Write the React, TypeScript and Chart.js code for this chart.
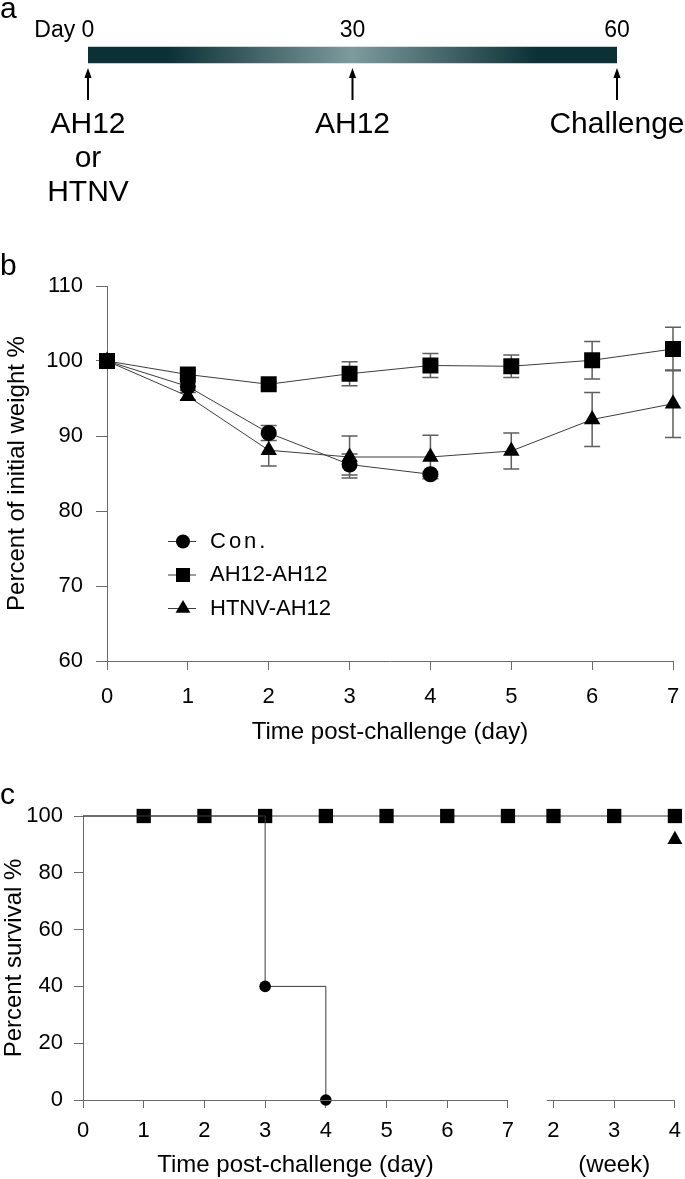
import React, { useEffect, useRef } from 'react';
import { Chart, registerables } from 'chart.js';

Chart.register(...registerables);

const FONT = '"Liberation Sans", Arimo, Arial, sans-serif';
const AXIS = '#6a6a6a';
const LINE = '#3c3c3c';
const ERR = '#5e5e5e';

Chart.defaults.font.family = FONT;
Chart.defaults.color = '#000';

// ---------- panel a : immunisation timeline ----------
const timelineDays = [0, 30, 60];
const timelineTickLabels = ['Day 0', '30', '60'];
const timelineEvents = [['AH12', 'or', 'HTNV'], ['AH12'], ['Challenge']];

// ---------- panel b : body weight ----------
const seriesNames = ['Con.', 'AH12-AH12', 'HTNV-AH12'];
const weightDays = [0, 1, 2, 3, 4, 5, 6, 7];
const conWeight = [100, 96.6, 90.4, 86.2, 84.9];
const conWeightErr = [0, 0.5, 1.0, 1.4, 0.3];
const ah12Weight = [100, 98.2, 96.9, 98.3, 99.4, 99.3, 100.1, 101.6];
const ah12WeightErr = [0, 0.5, 0.4, 1.6, 1.6, 1.5, 2.5, 2.9];
const htnvWeight = [100, 95.3, 88.1, 87.2, 87.2, 88.0, 92.2, 94.3];
const htnvWeightErr = [0, 0.5, 2.1, 2.8, 2.9, 2.4, 3.6, 4.5];

// ---------- panel c : survival ----------
const survivalTickPos = [0, 1, 2, 3, 4, 5, 6, 7, 7.75, 8.75, 9.75];
const survivalTickLabels = ['0', '1', '2', '3', '4', '5', '6', '7', '2', '3', '4'];
const conSurvivalX = [0, 3, 4];
const conSurvival = [100, 40, 0];
const ah12Survival = [100, 100, 100, 100, 100, 100, 100, 100, 100, 100, 100];
const htnvSurvival = [100, 100, 100, 100, 100, 100, 100, 100, 100, 100, 91.7];

document.body.style.margin = '0';

const pts = (xs: number[], ys: number[]) => ys.map((y, i) => ({ x: xs[i], y }));

function drawMarker(ctx: CanvasRenderingContext2D, style: string, x: number, y: number, r: number) {
  ctx.beginPath();
  if (style === 'circle') {
    ctx.arc(x, y, r, 0, Math.PI * 2);
  } else if (style === 'rect') {
    const s = r * Math.SQRT1_2;
    ctx.rect(x - s, y - s, 2 * s, 2 * s);
  } else {
    ctx.moveTo(x, y - r);
    ctx.lineTo(x + r * Math.sin((2 * Math.PI) / 3), y - r * Math.cos((2 * Math.PI) / 3));
    ctx.lineTo(x + r * Math.sin((4 * Math.PI) / 3), y - r * Math.cos((4 * Math.PI) / 3));
    ctx.closePath();
  }
  ctx.fill();
}

const panelLetter = (letter: string, baseline: number) => ({
  id: 'letter' + letter,
  afterDraw(chart: any) {
    const ctx = chart.ctx;
    ctx.save();
    ctx.fillStyle = '#000';
    ctx.font = `30px ${FONT}`;
    ctx.textAlign = 'left';
    ctx.textBaseline = 'alphabetic';
    ctx.fillText(letter, 0, baseline);
    ctx.restore();
  },
});

// ---------- configs ----------
const timelinePlugin = {
  id: 'timeline',
  afterDraw(chart: any) {
    const ctx = chart.ctx as CanvasRenderingContext2D;
    const xs = chart.scales.x;
    ctx.save();
    ctx.fillStyle = '#000';
    ctx.strokeStyle = '#000';
    timelineDays.forEach((d, i) => {
      const px = xs.getPixelForValue(d);
      ctx.font = `23px ${FONT}`;
      ctx.textBaseline = 'alphabetic';
      const label = timelineTickLabels[i];
      if (i === 0) {
        const w0 = ctx.measureText(String(d)).width;
        ctx.textAlign = 'right';
        ctx.fillText(label, px + w0 / 2, 37);
      } else {
        ctx.textAlign = 'center';
        ctx.fillText(label, px, 37);
      }
      ctx.lineWidth = 2;
      ctx.beginPath();
      ctx.moveTo(px, 100);
      ctx.lineTo(px, 76);
      ctx.stroke();
      ctx.beginPath();
      ctx.moveTo(px, 68);
      ctx.lineTo(px - 3.6, 78);
      ctx.lineTo(px + 3.6, 78);
      ctx.closePath();
      ctx.fill();
      ctx.font = `30px ${FONT}`;
      ctx.textAlign = 'center';
      timelineEvents[i].forEach((t, j) => ctx.fillText(t, px, 133 + j * 34));
    });
    ctx.restore();
  },
};

function timelineConfig(): any {
  return {
    type: 'bar',
    data: {
      labels: ['schedule'],
      datasets: [
        {
          data: [[timelineDays[0], timelineDays[timelineDays.length - 1]]],
          barThickness: 16,
          borderWidth: 0,
          backgroundColor: (c: any) => {
            const { ctx, chartArea } = c.chart;
            if (!chartArea) return '#0b3036';
            const g = ctx.createLinearGradient(chartArea.left, 0, chartArea.right, 0);
            g.addColorStop(0, '#0b3036');
            g.addColorStop(0.15, '#0b3036');
            g.addColorStop(0.5, '#7e9b9d');
            g.addColorStop(0.85, '#0b3036');
            g.addColorStop(1, '#0b3036');
            return g;
          },
        },
      ],
    },
    options: {
      indexAxis: 'y',
      responsive: false,
      animation: false,
      devicePixelRatio: 1,
      events: [],
      layout: { padding: { left: 88, right: 68, top: 40, bottom: 170 } },
      scales: {
        x: { type: 'linear', min: 0, max: 60, display: false },
        y: { display: false },
      },
      plugins: { legend: { display: false }, tooltip: { enabled: false } },
    },
    plugins: [timelinePlugin, panelLetter('a', 18)],
  };
}

const errorBarPlugin = {
  id: 'errorBars',
  beforeDatasetsDraw(chart: any) {
    const ctx = chart.ctx as CanvasRenderingContext2D;
    const xs = chart.scales.x;
    const ys = chart.scales.y;
    ctx.save();
    ctx.strokeStyle = ERR;
    ctx.lineWidth = 1.5;
    chart.data.datasets.forEach((ds: any) => {
      if (!ds.err) return;
      ds.data.forEach((p: any, i: number) => {
        const e = ds.err[i];
        if (!e) return;
        const px = xs.getPixelForValue(p.x);
        const y1 = ys.getPixelForValue(p.y + e);
        const y2 = ys.getPixelForValue(p.y - e);
        ctx.beginPath();
        ctx.moveTo(px, y1);
        ctx.lineTo(px, y2);
        ctx.moveTo(px - 8, y1);
        ctx.lineTo(px + 8, y1);
        ctx.moveTo(px - 8, y2);
        ctx.lineTo(px + 8, y2);
        ctx.stroke();
      });
    });
    ctx.restore();
  },
};

const legendPlugin = {
  id: 'innerLegend',
  afterDraw(chart: any) {
    const ctx = chart.ctx as CanvasRenderingContext2D;
    const sizes: Record<string, number> = { circle: 7, rect: 9.9, triangle: 8.6 };
    ctx.save();
    chart.data.datasets.forEach((ds: any, i: number) => {
      const cy = 296.5 + i * 33.5;
      const cx = 183;
      ctx.strokeStyle = LINE;
      ctx.lineWidth = 1;
      ctx.beginPath();
      ctx.moveTo(168, cy);
      ctx.lineTo(196, cy);
      ctx.stroke();
      ctx.fillStyle = '#000';
      drawMarker(ctx, ds.pointStyle, cx, cy, sizes[ds.pointStyle]);
      ctx.font = `22px ${FONT}`;
      ctx.textAlign = 'left';
      ctx.textBaseline = 'middle';
      (ctx as any).letterSpacing = i === 0 ? '3px' : '0px';
      ctx.fillText(ds.label, 210, cy);
    });
    ctx.restore();
  },
};

const lineStyle = {
  borderColor: LINE,
  borderWidth: 1,
  backgroundColor: '#000',
  pointBackgroundColor: '#000',
  pointBorderColor: '#000',
  pointBorderWidth: 0,
  tension: 0,
  clip: false,
};

const noSidePadding = (h: number) => (s: any) => {
  s.height = h;
  s.paddingLeft = 0;
  s.paddingRight = 0;
};

function weightConfig(): any {
  return {
    type: 'line',
    data: {
      datasets: [
        { ...lineStyle, label: seriesNames[0], data: pts(weightDays, conWeight), err: conWeightErr, pointStyle: 'circle', pointRadius: 8 },
        { ...lineStyle, label: seriesNames[1], data: pts(weightDays, ah12Weight), err: ah12WeightErr, pointStyle: 'rect', pointRadius: 11.3 },
        { ...lineStyle, label: seriesNames[2], data: pts(weightDays, htnvWeight), err: htnvWeightErr, pointStyle: 'triangle', pointRadius: 9.5 },
      ],
    },
    options: {
      responsive: false,
      animation: false,
      devicePixelRatio: 1,
      events: [],
      layout: { padding: { left: 0, right: 12, top: 41, bottom: 0 } },
      scales: {
        x: {
          type: 'linear',
          min: 0,
          max: 7,
          ticks: { stepSize: 1, padding: 14, color: '#000', font: { size: 22 }, maxRotation: 0 },
          grid: { drawOnChartArea: false, drawTicks: true, tickLength: 9, tickColor: AXIS },
          border: { color: AXIS, width: 1 },
          title: { display: true, text: 'Time post-challenge (day)', color: '#000', font: { size: 24 }, padding: { top: 0, bottom: 18.6 } },
          afterFit: noSidePadding(104),
        },
        y: {
          type: 'linear',
          min: 60,
          max: 110,
          ticks: { stepSize: 10, padding: 13, color: '#000', font: { size: 22 } },
          grid: { drawOnChartArea: false, drawTicks: true, tickLength: 11, tickColor: AXIS },
          border: { color: AXIS, width: 1 },
          title: { display: true, text: 'Percent of initial weight %', color: '#000', font: { size: 24, lineHeight: 1 }, padding: { top: 5, bottom: 0 } },
          afterFit: (s: any) => { s.width = 107; },
        },
      },
      plugins: { legend: { display: false }, tooltip: { enabled: false } },
    },
    plugins: [errorBarPlugin, legendPlugin, panelLetter('b', 30)],
  };
}

const survivalAxisPlugin = {
  id: 'survivalAxis',
  afterDraw(chart: any) {
    const ctx = chart.ctx as CanvasRenderingContext2D;
    const xs = chart.scales.x;
    const y = Math.round(chart.chartArea.bottom) + 0.5;
    ctx.save();
    ctx.strokeStyle = AXIS;
    ctx.lineWidth = 1;
    ctx.beginPath();
    ctx.moveTo(xs.getPixelForValue(0), y);
    ctx.lineTo(xs.getPixelForValue(7), y);
    ctx.moveTo(xs.getPixelForValue(7.64), y);
    ctx.lineTo(xs.getPixelForValue(9.75), y);
    ctx.stroke();
    ctx.fillStyle = '#000';
    ctx.font = `24px ${FONT}`;
    ctx.textAlign = 'center';
    ctx.textBaseline = 'alphabetic';
    const dayMid = (xs.getPixelForValue(0) + xs.getPixelForValue(7)) / 2;
    ctx.fillText('Time post-challenge (day)', dayMid, 392);
    ctx.fillText('(week)', xs.getPixelForValue(8.75), 392);
    ctx.restore();
  },
};

function survivalConfig(): any {
  const hideExceptLast = htnvSurvival.map((_, i) => (i === htnvSurvival.length - 1 ? 8.7 : 0));
  const ah12Radius = ah12Survival.map((_, i) => (i === 0 ? 0 : 10.1));
  return {
    type: 'line',
    data: {
      datasets: [
        { ...lineStyle, label: seriesNames[0], data: pts(conSurvivalX, conSurvival), stepped: true, pointStyle: 'circle', pointRadius: conSurvival.map((_, i) => (i === 0 ? 0 : 5.8)) },
        { ...lineStyle, label: seriesNames[1], data: pts(survivalTickPos, ah12Survival), stepped: true, pointStyle: 'rect', pointRadius: ah12Radius },
        { ...lineStyle, label: seriesNames[2], data: pts(survivalTickPos, htnvSurvival), showLine: false, pointStyle: 'triangle', pointRadius: hideExceptLast },
      ],
    },
    options: {
      responsive: false,
      animation: false,
      devicePixelRatio: 1,
      events: [],
      layout: { padding: { left: 0, right: 8, top: 36, bottom: 0 } },
      scales: {
        x: {
          type: 'linear',
          min: 0,
          max: 9.75,
          afterBuildTicks: (s: any) => { s.ticks = survivalTickPos.map((v) => ({ value: v })); },
          ticks: { padding: 9.5, color: '#000', font: { size: 22 }, autoSkip: false, maxRotation: 0, callback: (_v: any, i: number) => survivalTickLabels[i] },
          grid: { drawOnChartArea: false, drawTicks: true, tickLength: 8, tickColor: AXIS },
          border: { display: false },
          afterFit: noSidePadding(79),
        },
        y: {
          type: 'linear',
          min: 0,
          max: 100,
          ticks: { stepSize: 20, padding: 11, color: '#000', font: { size: 22 } },
          grid: { drawOnChartArea: false, drawTicks: true, tickLength: 9, tickColor: AXIS },
          border: { color: AXIS, width: 1 },
          title: { display: true, text: 'Percent survival %', color: '#000', font: { size: 24, lineHeight: 1 }, padding: { top: 2, bottom: 0 } },
          afterFit: (s: any) => { s.width = 83; },
        },
      },
      plugins: { legend: { display: false }, tooltip: { enabled: false } },
    },
    plugins: [survivalAxisPlugin, panelLetter('c', 24)],
  };
}

function ChartCanvas({ top, height, build }: { top: number; height: number; build: () => any }) {
  const ref = useRef<HTMLCanvasElement | null>(null);
  useEffect(() => {
    if (!ref.current) return;
    const chart = new Chart(ref.current, build());
    return () => chart.destroy();
  }, []);
  return (
    <canvas
      ref={ref}
      width={685}
      height={height}
      style={{ position: 'absolute', left: 0, top, width: 685, height, display: 'block' }}
    />
  );
}

export default function App() {
  return (
    <div style={{ position: 'relative', width: 685, height: 1179, background: '#fff', overflow: 'hidden' }}>
      <ChartCanvas top={0} height={240} build={timelineConfig} />
      <ChartCanvas top={245} height={520} build={weightConfig} />
      <ChartCanvas top={780} height={399} build={survivalConfig} />
    </div>
  );
}
